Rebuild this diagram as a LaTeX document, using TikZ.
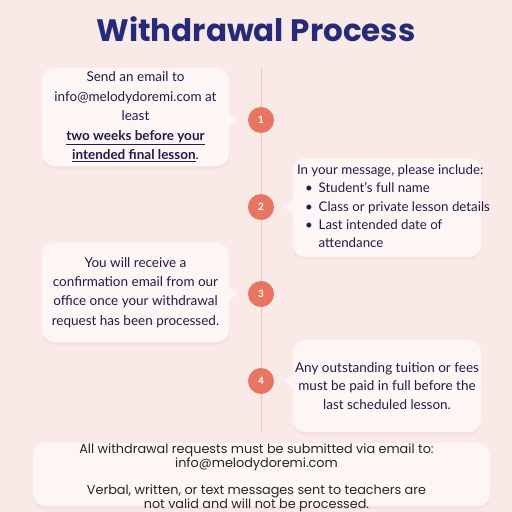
\documentclass[tikz,border=0pt]{standalone}
\usepackage{fontspec}
\setmainfont{Lato}
\newfontfamily\pop{Poppins}
\usetikzlibrary{calc,shadows}
\definecolor{bg}{RGB}{249,234,231}
\definecolor{boxfill}{RGB}{253,246,244}
\definecolor{salmon}{RGB}{232,117,98}
\definecolor{navy}{RGB}{38,42,120}
\definecolor{ink}{RGB}{30,30,72}
\definecolor{vline}{RGB}{238,196,190}
\tikzset{
  card/.style={draw=none, fill=boxfill, rounded corners=12pt, inner sep=0pt,
    text=ink, align=center,
    drop shadow={opacity=0.06, shadow xshift=0pt, shadow yshift=-3pt}},
  numdot/.style={circle, fill=salmon, minimum size=26pt, inner sep=0pt,
    text=white, font=\bfseries\fontsize{10}{12}\selectfont},
  pointer/.style={fill=boxfill, draw=none}
}
\begin{document}
\begin{tikzpicture}[x=1pt,y=-1pt]
\fill[bg] (0,0) rectangle (512,512);
\useasboundingbox (0,0) rectangle (512,512);
% title
\node[text=navy, font=\pop\bfseries\fontsize{31}{36}\selectfont] (title) at (256,29) {Withdrawal Process};
% timeline
\coordinate (lt) at (261,68);
\coordinate (lb) at (261,433);
\draw[vline, line width=1pt] (lt) -- (lb);
% cards
\node[card, minimum width=187pt, minimum height=98pt, font=\fontsize{13.5}{19.5}\selectfont] (b1) at (135.5,117)
 {Send an email to\\ info@melodydoremi.com at\\ least\\ \textbf{\underline{two weeks before your}}\\ \textbf{\underline{intended final lesson}}.};
\node[card, minimum width=188pt, minimum height=99pt, align=left, font=\fontsize{13.3}{18.4}\selectfont] (b2) at (387,207.5)
 {\makebox[188pt][l]{\hspace*{4pt}\begin{tabular}{@{}l@{}}In your message, please include:\\
 \hspace{8pt}\textbullet\hspace{6pt}Student's full name\\
 \hspace{8pt}\textbullet\hspace{6pt}Class or private lesson details\\
 \hspace{8pt}\textbullet\hspace{6pt}Last intended date of\\
 \hspace{8pt}\phantom{\textbullet}\hspace{6pt}attendance\end{tabular}}};
\node[card, minimum width=187pt, minimum height=99pt, font=\fontsize{13.5}{19.3}\selectfont] (b3) at (135.5,292.5)
 {You will receive a\\ confirmation email from our\\ office once your withdrawal\\ request has been processed.};
\node[card, minimum width=188pt, minimum height=92pt, font=\fontsize{13.5}{18.5}\selectfont] (b4) at (387,386)
 {Any outstanding tuition or fees\\ must be paid in full before the\\ last scheduled lesson.};
% circles
\node[numdot] (c1) at (261,120) {1};
\node[numdot] (c2) at (261,207) {2};
\node[numdot] (c3) at (261,294) {3};
\node[numdot] (c4) at (261,381) {4};
% pointers
\fill[pointer] ($(b1.east |- c1)+(-1,-7)$) -- ($(c1.west)+(-11,0)$) -- ($(b1.east |- c1)+(-1,7)$) -- cycle;
\fill[pointer] ($(b2.west |- c2)+(1,-7)$) -- ($(c2.east)+(10,0)$) -- ($(b2.west |- c2)+(1,7)$) -- cycle;
\fill[pointer] ($(b3.east |- c3)+(-1,-7)$) -- ($(c3.west)+(-11,0)$) -- ($(b3.east |- c3)+(-1,7)$) -- cycle;
\fill[pointer] ($(b4.west |- c4)+(1,-7)$) -- ($(c4.east)+(10,0)$) -- ($(b4.west |- c4)+(1,7)$) -- cycle;
% bottom note
\node[card, minimum width=457pt, minimum height=63pt] (note) at (261.5,474.5) {};
\node[text=black!85, align=center, font=\pop\fontsize{12.8}{12.4}\selectfont] (notetext) at (256.5,478)
 {All withdrawal requests must be submitted via email to:\\ info@melodydoremi.com\\[12.5pt] Verbal, written, or text messages sent to teachers are\\ not valid and will not be processed.};
\end{tikzpicture}
\end{document}
